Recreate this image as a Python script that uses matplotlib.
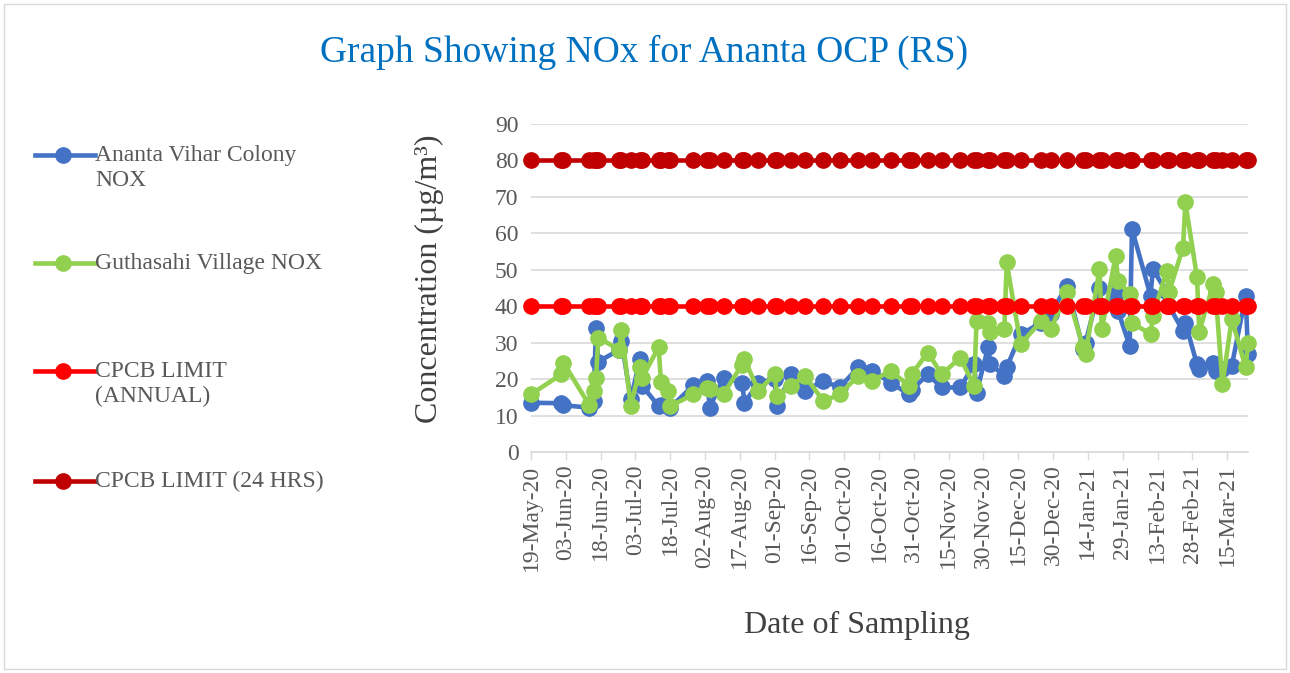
import numpy as np
import matplotlib
matplotlib.use("Agg")
import matplotlib.pyplot as plt
import matplotlib.dates as mdates
import pandas as pd
from matplotlib.lines import Line2D
from matplotlib.patches import Rectangle

plt.rcParams['font.family'] = ['Liberation Serif', 'DejaVu Serif']

# sampling dates
dates = ['2020-05-19', '2020-06-01', '2020-06-02', '2020-06-13', '2020-06-15', '2020-06-16',
         '2020-06-17', '2020-06-26', '2020-06-27', '2020-07-01', '2020-07-05', '2020-07-06',
         '2020-07-13', '2020-07-14', '2020-07-17', '2020-07-18', '2020-07-28', '2020-08-03',
         '2020-08-04', '2020-08-10', '2020-08-18', '2020-08-19', '2020-08-25', '2020-09-01',
         '2020-09-02', '2020-09-08', '2020-09-14', '2020-09-22', '2020-09-29', '2020-10-07',
         '2020-10-13', '2020-10-21', '2020-10-29', '2020-10-30', '2020-11-06', '2020-11-12',
         '2020-11-20', '2020-11-26', '2020-11-27', '2020-12-02', '2020-12-03', '2020-12-09',
         '2020-12-10', '2020-12-16', '2020-12-25', '2020-12-29', '2021-01-05', '2021-01-12',
         '2021-01-13', '2021-01-19', '2021-01-20', '2021-01-26', '2021-01-27', '2021-02-01',
         '2021-02-02', '2021-02-10', '2021-02-11', '2021-02-17', '2021-02-18', '2021-02-24',
         '2021-02-25', '2021-03-02', '2021-03-03', '2021-03-09', '2021-03-10', '2021-03-13',
         '2021-03-17', '2021-03-23', '2021-03-24']

# Ananta Vihar Colony NOX
ananta = [13.5, 13.4, 12.8, 12.2, 14.0, 34.0,
          24.8, 28.0, 30.5, 14.5, 25.5, 18.1,
          12.6, 13.0, 12.5, 12.2, 18.3, 19.5,
          12.2, 20.4, 19.0, 13.5, 19.0, 20.0,
          12.6, 21.3, 16.8, 19.5, 17.7, 23.2,
          22.3, 19.0, 15.8, 17.0, 21.3, 17.7,
          17.7, 24.1, 16.3, 28.7, 24.1, 20.9,
          23.2, 32.3, 35.5, 38.0, 45.6, 28.2,
          30.0, 45.1, 40.0, 43.3, 38.7, 29.1,
          61.2, 42.9, 50.2, 43.8, 40.0, 33.2,
          35.5, 24.1, 22.7, 24.5, 22.3, 22.7,
          23.6, 42.9, 26.8]

# Guthasahi Village NOX
guthasahi = [15.8, 21.3, 24.5, 13.0, 16.8, 20.2,
             31.4, 28.0, 33.4, 12.6, 23.2, 20.4,
             28.8, 19.3, 16.8, 12.6, 15.8, 17.5,
             17.2, 16.0, 24.0, 25.5, 16.8, 21.3,
             15.4, 18.1, 20.9, 14.0, 15.8, 20.9,
             19.5, 22.3, 18.1, 21.3, 27.3, 21.3,
             25.9, 18.1, 36.0, 35.5, 32.8, 33.7,
             52.0, 29.6, 36.0, 33.7, 43.8, 28.7,
             26.8, 50.2, 33.7, 53.8, 47.0, 43.3,
             35.5, 32.3, 37.4, 49.7, 44.0, 56.1,
             68.5, 48.1, 33.0, 46.0, 44.0, 18.6,
             36.5, 23.2, 30.0]

annual_limit = 40
daily_limit = 80

x = pd.to_datetime(dates)
n = len(x)

fig = plt.figure(figsize=(12.9, 6.73), dpi=100)
ax = fig.add_axes([531 / 1290, 1 - 452 / 673, (1248 - 531) / 1290, (452 - 124) / 673])

lw = 3.3
ms = 11
ax.plot(x, ananta, color='#4472C4', lw=lw, marker='o', ms=ms, clip_on=False, zorder=3)
ax.plot(x, guthasahi, color='#92D050', lw=lw, marker='o', ms=ms, clip_on=False, zorder=4)
ax.plot(x, np.full(n, annual_limit), color='#FF0000', lw=lw, marker='o', ms=ms, clip_on=False, zorder=5)
ax.plot(x, np.full(n, daily_limit), color='#C00000', lw=lw, marker='o', ms=ms, clip_on=False, zorder=6)

ax.set_ylim(0, 90)
ax.set_yticks(range(0, 100, 10))
ax.set_xlim(x[0], x[-1])
ticks = pd.date_range('2020-05-19', '2021-03-24', freq='15D')
ax.set_xticks(ticks)
ax.xaxis.set_major_formatter(mdates.DateFormatter('%d-%b-%y'))
ax.tick_params(axis='x', rotation=90, labelsize=17, labelcolor='#595959', length=6, width=1,
               direction='out', color='#D9D9D9', pad=3)
ax.tick_params(axis='y', labelsize=17, labelcolor='#595959', length=0, pad=9)

ax.grid(axis='y', color='#D9D9D9', lw=1.2)
ax.set_axisbelow(True)
for s in ['top', 'right', 'left']:
    ax.spines[s].set_visible(False)
ax.spines['bottom'].set_color('#D9D9D9')
ax.spines['bottom'].set_linewidth(1.2)

ax.set_ylabel('Concentration (µg/m³)', fontsize=23, color='#404040')
ax.yaxis.set_label_coords(-0.122, 0.527)
ax.set_xlabel('Date of Sampling', fontsize=23, color='#404040')
ax.xaxis.set_label_coords(0.455, -0.485)

fig.text(644 / 1290, 1 - 52 / 673, 'Graph Showing NOx for Ananta OCP (RS)', fontsize=27,
         color='#0070C0', ha='center', va='center')

# legend on the left
legend_items = [('Ananta Vihar Colony\nNOX', '#4472C4', 155),
                ('Guthasahi Village NOX', '#92D050', 263),
                ('CPCB LIMIT\n(ANNUAL)', '#FF0000', 371),
                ('CPCB LIMIT (24 HRS)', '#C00000', 481)]
for label, col, ypx in legend_items:
    yy = 1 - ypx / 673
    fig.add_artist(Line2D([35 / 1290, 95 / 1290], [yy, yy], color=col, lw=lw))
    fig.add_artist(Line2D([63 / 1290], [yy], color=col, marker='o', ms=ms))
    fig.text(95 / 1290, yy + 10 / 673, label, fontsize=17, color='#595959',
             ha='left', va='top', linespacing=1.25)

fig.add_artist(Rectangle((4 / 1290, 4 / 673), 1282 / 1290, 665 / 673, transform=fig.transFigure,
                         fill=False, edgecolor='#D9D9D9', lw=1))

fig.savefig('out.png', dpi=100)
